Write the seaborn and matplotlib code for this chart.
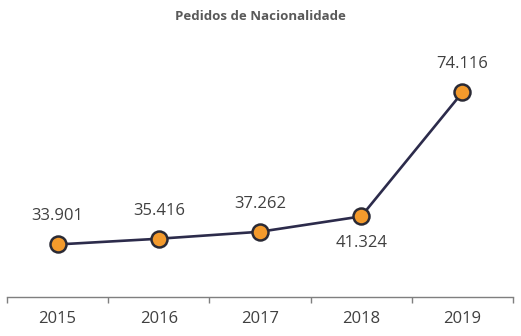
import matplotlib
matplotlib.use("Agg")
import matplotlib.pyplot as plt
import seaborn as sns
import pandas as pd
from matplotlib.ticker import FixedLocator

years = ["2015", "2016", "2017", "2018", "2019"]
pedidos = [33901, 35416, 37262, 41324, 74116]
label_below = [False, False, False, True, False]
title = "Pedidos de Nacionalidade"

sns.set_theme(style="white")
plt.rcParams['font.family'] = ['Open Sans', 'DejaVu Sans']

df = pd.DataFrame({"ano": years, "pedidos": pedidos})

fig = plt.figure(figsize=(5.21, 3.36), dpi=100)
ax = fig.add_axes([7/521, 39/336, 506/521, (297-32.4)/336])

sns.lineplot(data=df, x="ano", y="pedidos", ax=ax, color="#2c2b4b", linewidth=1.9,
             marker="o", markersize=11.5, markerfacecolor="#f39a2c",
             markeredgecolor="#2a2a35", markeredgewidth=1.8, zorder=3)

ax.set_xlim(-0.5, len(years) - 0.5)
ax.set_ylim(20000, 90000)

for i, v in enumerate(pedidos):
    txt = f"{v:,}".replace(",", ".")
    off = -27 if label_below[i] else 28
    ax.annotate(txt, (i, v), xytext=(0, off * 0.72), textcoords="offset points",
                ha="center", va="center", fontsize=12, color="#404040")

for s in ["top", "right", "left"]:
    ax.spines[s].set_visible(False)
ax.spines["bottom"].set_color("#7f7f7f")
ax.spines["bottom"].set_linewidth(1.0)
ax.set_yticks([])
ax.set_xlabel("")
ax.set_ylabel("")
ax.set_xticks(range(len(years)))
ax.set_xticklabels(years, fontsize=12, color="#404040")
ax.xaxis.set_minor_locator(FixedLocator([i - 0.5 for i in range(len(years) + 1)]))
ax.tick_params(axis="x", which="major", length=0, pad=10)
ax.tick_params(axis="x", which="minor", length=4, width=1, color="#7f7f7f", direction="out", bottom=True)

fig.text(0.5, 1 - 16/336, title, ha="center", va="center", fontsize=9.5, fontweight="bold", color="#595959")

fig.savefig("out.png", dpi=100, facecolor="white")
